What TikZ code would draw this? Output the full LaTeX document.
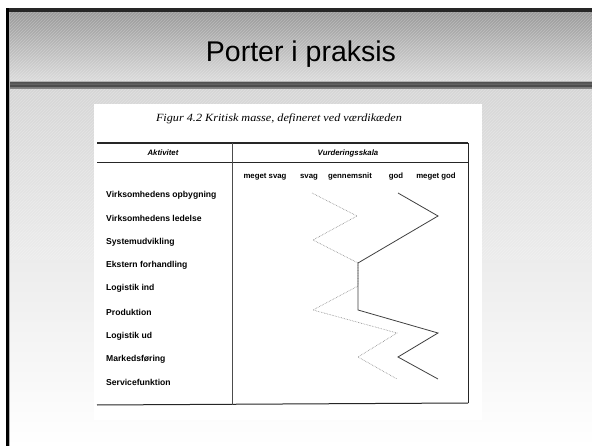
\documentclass[tikz,border=0pt]{standalone}
\usepackage{fontspec}
\setmainfont{Liberation Sans}
\newfontfamily\capfont{Liberation Serif}
\usetikzlibrary{patterns}
\tikzset{
  rowlbl/.style={anchor=west, inner sep=0pt, font=\fontsize{8.6}{9}\selectfont\bfseries},
  scalelbl/.style={inner sep=0pt, font=\fontsize{7.8}{8}\selectfont\bfseries},
  headlbl/.style={inner sep=0pt, font=\fontsize{7.8}{8}\selectfont\bfseries\itshape},
  rule/.style={draw=black!85, line width=0.8pt},
  lightline/.style={draw=black!50, line width=0.6pt, densely dotted},
  darkline/.style={draw=black!75, line width=0.8pt},
}
\begin{document}
\begin{tikzpicture}[x=1pt,y=-1pt]
\useasboundingbox (0,0) rectangle (592,446);
\fill[white] (0,0) rectangle (592,446);
% content background
\shade[top color=black!16, bottom color=white, middle color=black!7] (9,89) rectangle (592,446);
% title band
\shade[top color=black!40, bottom color=black!14] (9,12) rectangle (592,81);
\fill[pattern=north east lines, pattern color=white, opacity=0.25] (9,12) rectangle (592,81);
\fill[pattern=north east lines, pattern color=white, opacity=0.25] (9,89) rectangle (592,260);
% separator
\fill[black!30] (9,81) rectangle (592,83);
\shade[top color=black!65, bottom color=black!45] (9,83) rectangle (592,89);
\fill[black!70] (9,85.5) rectangle (592,87);
% top dark band and left bar
\fill[black!85] (6,8) rectangle (592,12);
\fill[black] (6,8) rectangle (9,446);
\fill[black!30] (9,12) rectangle (10,446);
% title
\node[anchor=base, inner sep=0pt, font=\fontsize{28.5}{32}\selectfont] (title) at (301,62) {Porter i praksis};
% scanned figure area
\fill[white] (94,104) rectangle (482,420);
\node[inner sep=0pt, font=\capfont\itshape\fontsize{11}{12}\selectfont] (cap) at (279,119)
  {\scalebox{1.11}[1]{Figur 4.2 Kritisk masse, defineret ved værdikæden}};
% table
\coordinate (tl) at (97,143);
\coordinate (tr) at (468,143);
\coordinate (hl) at (97,162);
\coordinate (hr) at (468,162);
\coordinate (bl) at (97,405);
\coordinate (br) at (468,403);
\coordinate (vt) at (232,143);
\coordinate (vb) at (232,404.5);
\draw[rule, line width=1.1pt] (tl) -- (tr);
\draw[rule] (hl) -- (hr);
\draw[rule] (tr) -- (br);
\draw[rule, line width=1pt] (bl) -- (br);
\draw[rule, draw=black!70, line width=0.6pt] (vt) -- (vb);
\node[headlbl] (akt) at (163,153) {Aktivitet};
\node[headlbl] (vur) at (348,153) {Vurderingsskala};
% scale
\node[scalelbl] (s1) at (265,177) {meget svag};
\node[scalelbl] (s2) at (309,177) {svag};
\node[scalelbl] (s3) at (350,177) {gennemsnit};
\node[scalelbl] (s4) at (396,177) {god};
\node[scalelbl] (s5) at (436,177) {meget god};
% rows
\node[rowlbl] (r1) at (106,195) {Virksomhedens opbygning};
\node[rowlbl] (r2) at (106,218) {Virksomhedens ledelse};
\node[rowlbl] (r3) at (106,242) {Systemudvikling};
\node[rowlbl] (r4) at (106,265) {Ekstern forhandling};
\node[rowlbl] (r5) at (106,288) {Logistik ind};
\node[rowlbl] (r6) at (106,312) {Produktion};
\node[rowlbl] (r7) at (106,336) {Logistik ud};
\node[rowlbl] (r8) at (106,359) {Markedsføring};
\node[rowlbl] (r9) at (106,382) {Servicefunktion};
% light profile
\coordinate (a1) at (312,193);
\coordinate (a2) at (357,216);
\coordinate (a3) at (313,240);
\coordinate (a4) at (358,263);
\coordinate (a5) at (358,286);
\coordinate (a6) at (313,310);
\coordinate (a7) at (397,333);
\coordinate (a8) at (358,357);
\coordinate (a9) at (397,379);
\draw[lightline] (a1) -- (a2) -- (a3) -- (a4) -- (a5) -- (a6) -- (a7) -- (a8) -- (a9);
% dark profile
\coordinate (b1) at (398,193);
\coordinate (b2) at (438,216);
\coordinate (b4) at (358,263);
\coordinate (b6) at (358,310);
\coordinate (b7) at (438,333);
\coordinate (b8) at (398,357);
\coordinate (b9) at (438,379);
\draw[darkline] (b1) -- (b2) -- (b4) -- (b6) -- (b7) -- (b8) -- (b9);
\end{tikzpicture}
\end{document}
